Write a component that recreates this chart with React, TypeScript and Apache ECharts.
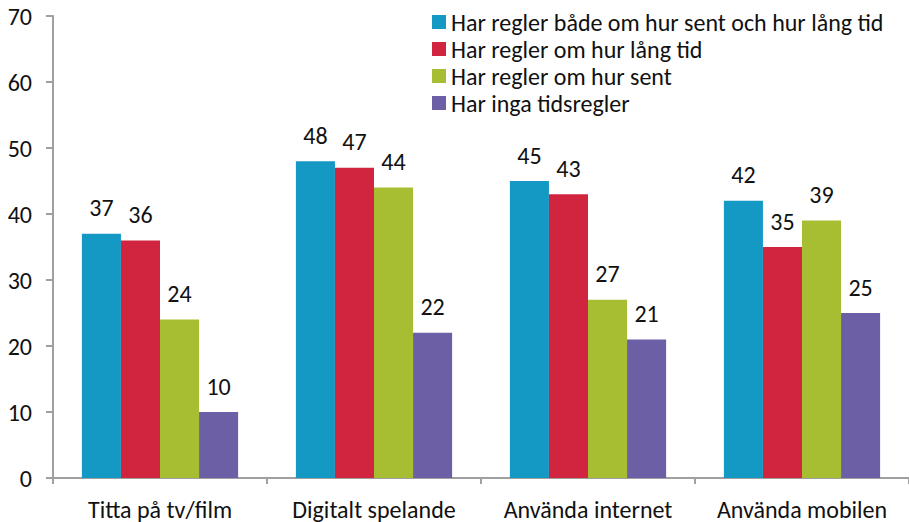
import React, { useEffect, useRef } from "react";
import * as echarts from "echarts";

const categories = ["Titta på tv/film", "Digitalt spelande", "Använda internet", "Använda mobilen"];
const seriesNames = [
  "Har regler både om hur sent och hur lång tid",
  "Har regler om hur lång tid",
  "Har regler om hur sent",
  "Har inga tidsregler",
];
const bothRules = [37, 48, 45, 42];
const durationRules = [36, 47, 43, 35];
const lateRules = [24, 44, 27, 39];
const noRules = [10, 22, 21, 25];
const colors = ["#1499C5", "#D1253F", "#A7BE33", "#6D5FA6"];

export default function App() {
  const ref = useRef<HTMLDivElement>(null);
  useEffect(() => {
    if (!ref.current) return;
    const chart = echarts.init(ref.current, undefined, { renderer: "svg" });
    const font = "Carlito, 'Open Sans', sans-serif";
    const data = [bothRules, durationRules, lateRules, noRules];
    chart.setOption({
      animation: false,
      textStyle: { fontFamily: font },
      grid: { left: 53, top: 16, width: 866, bottom: 44 },
      legend: {
        show: true,
        orient: "vertical",
        left: 427,
        top: 5,
        itemWidth: 14,
        itemHeight: 14,
        itemGap: 3,
        icon: "rect",
        textStyle: { fontSize: 24, color: "#111", fontFamily: font },
        data: seriesNames,
      },
      xAxis: {
        type: "category",
        data: categories,
        axisLine: { lineStyle: { color: "#A0A0A0", width: 2 } },
        axisTick: { show: true, length: 6, lineStyle: { color: "#A0A0A0", width: 2 } },
        axisLabel: { fontSize: 24, color: "#111", margin: 19, interval: 0, fontFamily: font },
      },
      yAxis: {
        type: "value",
        min: 0,
        max: 70,
        interval: 10,
        splitLine: { show: false },
        axisLine: { show: true, lineStyle: { color: "#A0A0A0", width: 2 } },
        axisTick: { show: true, length: 7, lineStyle: { color: "#A0A0A0", width: 2 } },
        axisLabel: { fontSize: 24, color: "#111", margin: 21, fontFamily: font },
      },
      series: seriesNames.map((name, i) => ({
        name,
        type: "bar",
        data: data[i],
        barGap: "0%",
        barCategoryGap: "27%",
        itemStyle: { color: colors[i] },
        label: {
          show: true,
          position: "top",
          distance: 14,
          fontSize: 24,
          color: "#111",
          fontFamily: font,
        },
      })),
    });
    return () => chart.dispose();
  }, []);
  return <div ref={ref} style={{ width: 909, height: 522, position: "absolute", left: 0, top: 0 }} />;
}
